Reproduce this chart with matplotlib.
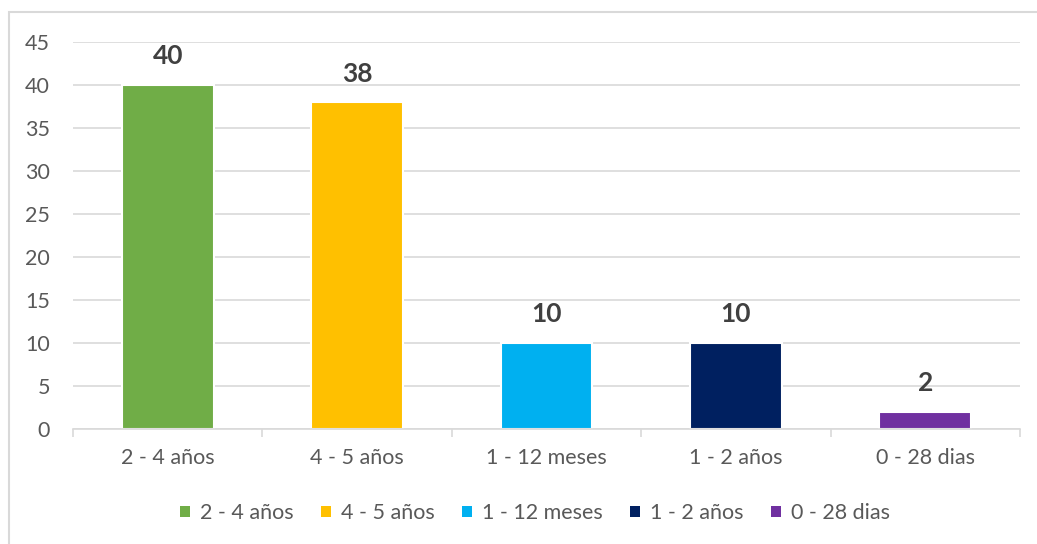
import matplotlib
matplotlib.use("Agg")
import matplotlib.pyplot as plt
from matplotlib.patches import Rectangle

categories = ["2 - 4 años", "4 - 5 años", "1 - 12 meses", "1 - 2 años", "0 - 28 dias"]
values = [40, 38, 10, 10, 2]
colors = ["#70AD47", "#FFC000", "#00B0F0", "#002060", "#7030A0"]
yticks = [0, 5, 10, 15, 20, 25, 30, 35, 40, 45]

plt.rcParams['font.family'] = ['Lato', 'DejaVu Sans']
W, H = 1037, 544
fig = plt.figure(figsize=(W / 100, H / 100), dpi=100)
fig.patch.set_facecolor("white")

# outer chart border (top and left visible)
fig.add_artist(Rectangle((9 / W, -0.1), 1.2, 1 - 12 / H + 0.1, transform=fig.transFigure,
                         fill=False, edgecolor="#D9D9D9", linewidth=1.5))

ax = fig.add_axes([73 / W, 1 - 429 / H, (1020 - 73) / W, (429 - 42) / H])
x = list(range(len(categories)))
ax.bar(x, values, width=0.485, color=colors, edgecolor="white", linewidth=1.5, zorder=3)

ax.set_xlim(-0.5, len(categories) - 0.5)
ax.set_ylim(0, 45)
ax.set_yticks(yticks)
ax.set_yticklabels([str(t) for t in yticks])
ax.yaxis.grid(True, color="#D9D9D9", linewidth=1.2, zorder=0)
ax.set_axisbelow(True)

for s in ["top", "right", "left"]:
    ax.spines[s].set_visible(False)
ax.spines["bottom"].set_color("#D9D9D9")
ax.spines["bottom"].set_linewidth(1.2)
ax.spines["bottom"].set_zorder(4)

ax.tick_params(axis="y", length=0, pad=16.5, labelsize=15.5, labelcolor="#595959")
ax.set_xticks(x)
ax.set_xticklabels(categories)
ax.tick_params(axis="x", which="major", length=0, pad=14, labelsize=15.5, labelcolor="#595959")
ax.set_xticks([i - 0.5 for i in range(len(categories) + 1)], minor=True)
ax.tick_params(axis="x", which="minor", length=6, width=1.2, color="#D9D9D9", direction="out")

for xi, v in zip(x, values):
    ax.annotate(str(v), (xi, v), xytext=(0, 12), textcoords="offset points",
                ha="center", va="bottom", fontsize=19, fontweight="bold", color="#404040")

handles = [Rectangle((0, 0), 1, 1, facecolor=c, edgecolor="none") for c in colors]
fig.legend(handles, categories, loc="center", bbox_to_anchor=(535 / W, 1 - 513 / H), ncol=5,
           frameon=False, fontsize=15.5, labelcolor="#595959", handlelength=0.45, handleheight=0.45,
           handletextpad=0.45, columnspacing=1.3)

fig.savefig("out.png", dpi=100, facecolor="white")
